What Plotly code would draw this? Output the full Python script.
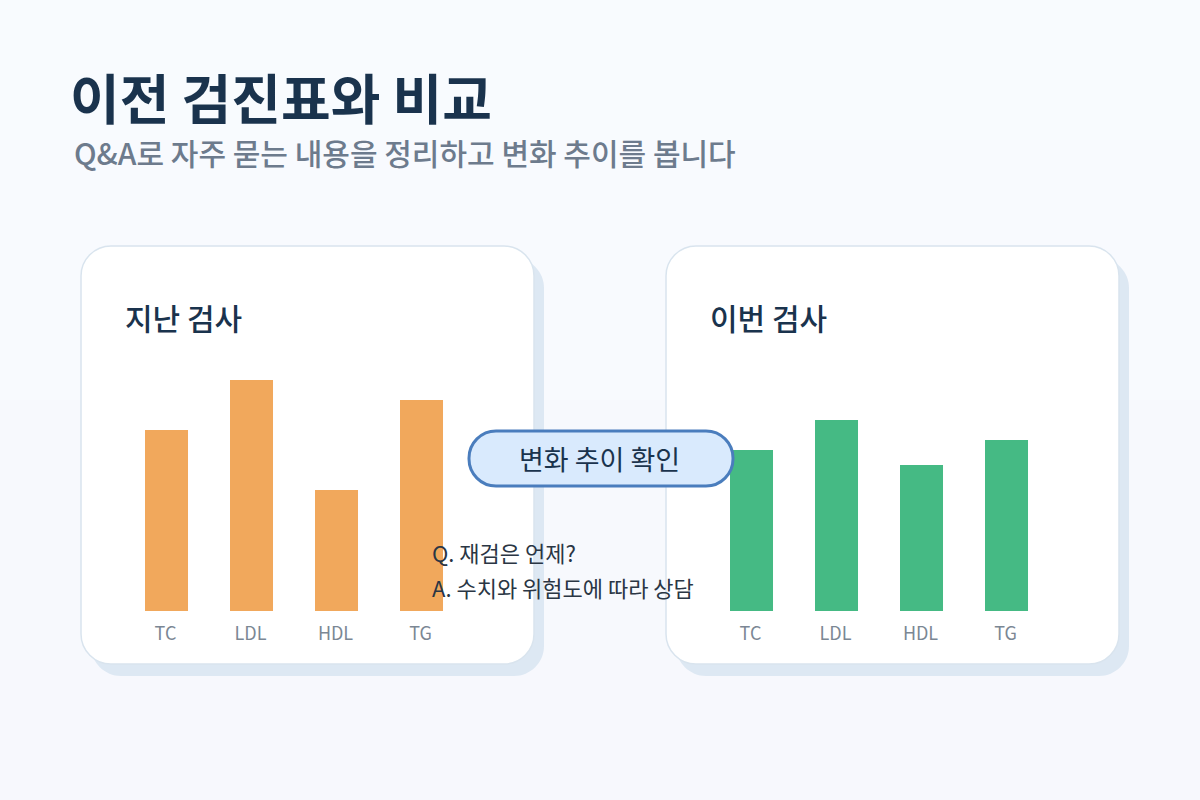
import plotly.graph_objects as go

categories = ["TC", "LDL", "HDL", "TG"]
last_values = [181, 231, 121, 211]
this_values = [161, 191, 146, 171]

W, H = 1200, 800
FONT = "Noto Sans CJK KR"
NAVY = "#1a334d"


def px(x):
    return x / W


def py(y):
    return 1 - y / H


def round_rect(x0, y0, x1, y1, r):
    # corners as curves, in page pixels converted to paper
    k = r * 0.45
    pts = [
        f"M {px(x0 + r)} {py(y0)}",
        f"L {px(x1 - r)} {py(y0)}",
        f"C {px(x1 - k)} {py(y0)} {px(x1)} {py(y0 + k)} {px(x1)} {py(y0 + r)}",
        f"L {px(x1)} {py(y1 - r)}",
        f"C {px(x1)} {py(y1 - k)} {px(x1 - k)} {py(y1)} {px(x1 - r)} {py(y1)}",
        f"L {px(x0 + r)} {py(y1)}",
        f"C {px(x0 + k)} {py(y1)} {px(x0)} {py(y1 - k)} {px(x0)} {py(y1 - r)}",
        f"L {px(x0)} {py(y0 + r)}",
        f"C {px(x0)} {py(y0 + k)} {px(x0 + k)} {py(y0)} {px(x0 + r)} {py(y0)}",
        "Z",
    ]
    return " ".join(pts)


def label(text, x, y, size, color, weight=400, anchor="left"):
    return dict(
        text=text, x=px(x), y=py(y), xref="paper", yref="paper",
        xanchor=anchor, yanchor="middle", showarrow=False,
        font=dict(family=FONT, size=size, color=color, weight=weight),
    )


fig = go.Figure()
fig.add_trace(go.Bar(x=categories, y=last_values, marker_color="#f1a85c", marker_line_width=0,
                     xaxis="x", yaxis="y", showlegend=False))
fig.add_trace(go.Bar(x=categories, y=this_values, marker_color="#45ba84", marker_line_width=0,
                     xaxis="x2", yaxis="y2", showlegend=False))

# soft vertical background
shapes = []
steps = 40
for i in range(steps):
    t = i / (steps - 1)
    c = (round(248 - t), round(251 - 3 * t), round(254 - t))
    shapes.append(dict(type="rect", xref="paper", yref="paper", layer="below",
                       x0=0, x1=1, y0=py(H * i / steps), y1=py(H * (i + 1) / steps) - 0.001,
                       fillcolor=f"rgb{c}", line_width=0))

for left in [81, 666]:
    shapes.append(dict(type="path", xref="paper", yref="paper", layer="below",
                       path=round_rect(left + 10, 258, left + 463, 676, 30),
                       fillcolor="#dde8f3", line_width=0))
    shapes.append(dict(type="path", xref="paper", yref="paper", layer="below",
                       path=round_rect(left, 246, left + 453, 664, 30),
                       fillcolor="#ffffff", line=dict(color="#d9e4ee", width=1.5)))

shapes.append(dict(type="path", xref="paper", yref="paper", layer="above",
                   path=round_rect(469, 431, 733, 486, 27),
                   fillcolor="#d9eafd", line=dict(color="#4a7dbd", width=3)))

annotations = [
    label("이전 검진표와 비교", 68, 96, 54, NAVY, 700),
    label("Q&A로 자주 묻는 내용을 정리하고 변화 추이를 봅니다", 72, 152, 30, "#6d7b8d", 500),
    label("지난 검사", 123, 317, 30, NAVY, 500),
    label("이번 검사", 708, 317, 30, NAVY, 500),
    label("변화 추이 확인", 599, 458, 27, NAVY, 400, "center"),
    label("Q. 재검은 언제?", 430, 552, 22, "#2a3644"),
    label("A. 수치와 위험도에 따라 상담", 430, 587, 22, "#2a3644"),
]

y_axis = dict(range=[0, 250], visible=False, fixedrange=True)
x_axis = dict(showline=False, showgrid=False, ticks="", zeroline=False,
              ticklabelstandoff=10, ticklabelshift=-1,
              tickfont=dict(family=FONT, size=18, color="#7b8794"),
              categoryorder="array", categoryarray=categories)

fig.update_layout(
    width=W, height=H,
    margin=dict(l=0, r=0, t=0, b=0),
    paper_bgcolor="#f8f9fe",
    plot_bgcolor="rgba(0,0,0,0)",
    bargap=0.494,
    shapes=shapes,
    annotations=annotations,
    xaxis=dict(domain=[px(124), px(464)], anchor="y", **x_axis),
    yaxis=dict(domain=[py(611), py(361)], anchor="x", **y_axis),
    xaxis2=dict(domain=[px(709), px(1049)], anchor="y2", **x_axis),
    yaxis2=dict(domain=[py(611), py(361)], anchor="x2", **y_axis),
)

fig.write_html("out.html", config={"displayModeBar": False},
               post_script="document.body.style.margin='0';document.body.style.overflow='hidden';")
